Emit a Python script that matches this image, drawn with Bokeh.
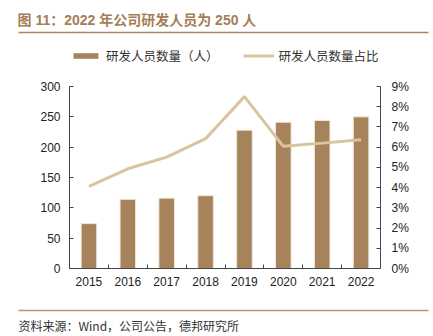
from bokeh.plotting import figure
from bokeh.layouts import column
from bokeh.models import (Range1d, LinearAxis, FixedTicker, NumeralTickFormatter,
                          Legend, LegendItem, ColumnDataSource)
from bokeh.core.properties import value
from bokeh.embed import file_html
from bokeh.resources import INLINE

years = ["2015", "2016", "2017", "2018", "2019", "2020", "2021", "2022"]
staff = [74, 114, 116, 120, 228, 241, 244, 250]
share = [0.0406, 0.0493, 0.0551, 0.0642, 0.085, 0.0604, 0.0620, 0.0637]

title_text = "图 11：2022 年公司研发人员为 250 人"
bar_name = "研发人员数量（人）"
line_name = "研发人员数量占比"
source_text = "资料来源：Wind，公司公告，德邦研究所"

BAR = "#a6835a"
LINE = "#d8c59d"
BROWN = "#a47e57"
FONT = "Liberation Sans, Noto Sans CJK SC"
CJK = "Noto Sans CJK SC"

W = 433
HEAD_H, MAIN_H, FOOT_H = 72, 224, 40
NAN = float("nan")
M = 2  # border kept around the frame of the header/footer panels


def blank(h):
    # y runs upward (0 at the bottom of the strip)
    f = figure(width=W, height=h, output_backend="svg", toolbar_location=None,
               x_range=Range1d(M, W - M), y_range=Range1d(M, h - M),
               x_axis_location=None, y_axis_location=None,
               min_border=M, min_border_left=M, min_border_right=M,
               min_border_top=M, min_border_bottom=M)
    f.frame_align = False
    f.grid.visible = False
    f.outline_line_color = None
    f.background_fill_color = "white"
    f.border_fill_color = "white"
    return f

# ---------------- header: title, rule, legend ----------------
head = blank(HEAD_H)
head.text(x=[17], y=[HEAD_H - 19], text=[title_text], text_font=value(FONT),
          text_font_size="14px", text_font_style="bold", text_color=BROWN,
          text_baseline="middle", text_align="left")
head.segment(x0=[18], y0=[HEAD_H - 32], x1=[428], y1=[HEAD_H - 32],
             line_color="#a88661", line_width=1.6)
lb = head.vbar(x=[NAN], top=[NAN], width=1, fill_color=BAR, line_color=None)
ll = head.line(x=[NAN, NAN], y=[NAN, NAN], line_color=LINE, line_width=3)
legend = Legend(items=[LegendItem(label=bar_name, renderers=[lb]),
                       LegendItem(label=line_name, renderers=[ll])],
                orientation="horizontal", location=(70 - M, 7 - M),
                glyph_width=31, glyph_height=7, label_standoff=5, spacing=24,
                padding=0, margin=0, border_line_color=None,
                background_fill_alpha=0,
                label_text_font=CJK, label_text_font_size="12.5px",
                label_text_color="#333333")
head.add_layout(legend, "center")

# ---------------- main chart ----------------
xs = list(range(len(years)))
src = ColumnDataSource(dict(x=xs, staff=staff, share=share))

p = figure(width=W, height=MAIN_H, output_backend="svg", toolbar_location=None,
           x_range=Range1d(-0.5, len(years) - 0.5), y_range=Range1d(0, 300),
           min_border_left=69, min_border_right=53, min_border_top=14, min_border_bottom=28)
p.frame_align = False
p.extra_y_ranges = {"pct": Range1d(0, 0.09)}
p.outline_line_color = None
p.xgrid.visible = False
p.ygrid.visible = False
p.background_fill_color = "white"
p.border_fill_color = "white"

p.vbar(x="x", top="staff", width=0.4, source=src, fill_color=BAR,
       line_color="#efe6da", line_width=1)
p.line(x="x", y="share", source=src, y_range_name="pct",
       line_color=LINE, line_width=3)

AX = "#444444"
def style(ax):
    ax.axis_line_color = AX
    ax.axis_line_width = 1
    ax.major_tick_line_color = AX
    ax.minor_tick_line_color = AX
    ax.major_label_text_font = FONT
    ax.major_label_text_font_size = "12px"
    ax.major_label_text_color = "#222222"

xa = p.xaxis[0]
xa.ticker = FixedTicker(ticks=xs, minor_ticks=[i + 0.5 for i in xs[:-1]])
xa.major_label_overrides = {i: y for i, y in enumerate(years)}
xa.major_tick_in = 0
xa.major_tick_out = 0
xa.minor_tick_in = 4
xa.minor_tick_out = 0
xa.major_label_standoff = 8
style(xa)

ya = p.yaxis[0]
ya.ticker = FixedTicker(ticks=list(range(0, 301, 50)))
ya.major_tick_in = 4
ya.major_tick_out = 0
ya.major_label_standoff = 9
style(ya)
ya.minor_tick_line_color = None

ra = LinearAxis(y_range_name="pct", ticker=FixedTicker(ticks=[i / 100 for i in range(10)]),
                formatter=NumeralTickFormatter(format="0%"))
ra.major_tick_in = 4
ra.major_tick_out = 0
ra.major_label_standoff = 11
style(ra)
ra.minor_tick_line_color = None
p.add_layout(ra, "right")

# ---------------- footer: rule and source ----------------
foot = blank(FOOT_H)
foot.segment(x0=[18], y0=[FOOT_H - 14], x1=[428], y1=[FOOT_H - 14],
             line_color="#b8987a", line_width=1.6)
foot.text(x=[18], y=[FOOT_H - 29], text=[source_text], text_font=value(CJK),
          text_font_size="12px", text_color="#333333",
          text_baseline="middle", text_align="left")

layout = column(head, p, foot, spacing=0)
open("out.html", "w").write(file_html(layout, INLINE))
